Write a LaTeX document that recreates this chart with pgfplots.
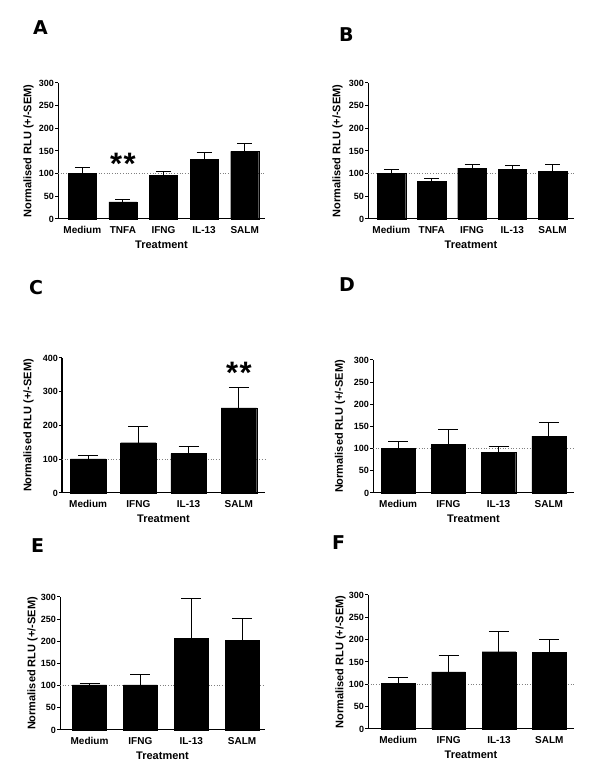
\documentclass[border=0pt]{standalone}
\usepackage{fontspec}
\setmainfont{Liberation Sans}
\newfontfamily\letterfont{DejaVu Sans}
\usepackage{pgfplots}
\pgfplotsset{compat=1.18}
\pgfplotsset{
  panel/.style={
    scale only axis,
    anchor=south west,
    axis lines=left,
    axis line style={-, line width=1pt},
    ymin=0,
    tick align=outside,
    major tick length=3pt,
    ytick style={line width=1pt, black},
    xtick style={draw=none},
    /pgf/number format/assume math mode=true,
    yticklabel style={font=\fontsize{9}{10}\selectfont\bfseries, inner sep=0.8pt},
    xticklabel style={font=\fontsize{10}{11}\selectfont\bfseries, anchor=base, yshift=-12pt},
    ylabel={Normalised RLU (+/-SEM)},
    xlabel={Treatment},
    label style={font=\fontsize{11}{12}\selectfont\bfseries},
    ylabel style={anchor=center, rotate=0},
    xlabel style={at={(axis description cs:0.5,0)}, anchor=base, yshift=-30pt},
    clip=false,
  },
  bars/.style 2 args={ybar, bar shift=0pt, bar width=#1, fill=black, draw=black,
    error bars/.cd, y dir=plus, y explicit,
    error bar style={line width=1pt, black},
    error mark options={rotate=90, mark size=#2, line width=1pt, black}},
  refline/.style={gray, dotted, line width=0.7pt, forget plot},
}
\newcommand{\stars}{{\fontsize{31}{31}\selectfont\bfseries *\kern1.5pt*}}
\newcommand{\plab}[1]{{\letterfont\fontsize{19}{19}\selectfont\bfseries #1}}
\begin{document}
\begin{tikzpicture}
\useasboundingbox (0,0) rectangle (600pt,775pt);
% panel letters
\node[anchor=base west, inner sep=0pt] at (33pt,740pt) {\plab{A}};
\node[anchor=base west, inner sep=0pt] at (339pt,733pt) {\plab{B}};
\node[anchor=base west, inner sep=0pt] at (29pt,480pt) {\plab{C}};
\node[anchor=base west, inner sep=0pt] at (339pt,483pt) {\plab{D}};
\node[anchor=base west, inner sep=0pt] at (31pt,222pt) {\plab{E}};
\node[anchor=base west, inner sep=0pt] at (332pt,225pt) {\plab{F}};

% A
\begin{axis}[panel, at={(58pt,556pt)}, width=207pt, height=136pt,
  xmin=-0.6, xmax=4.5, ymax=300, ytick={0,50,...,300},
  xtick={0,1,2,3,4}, xticklabels={Medium,TNFA,IFNG,IL-13,SALM},
  ylabel style={at={(axis description cs:-0.1425,0.5)}}]
\addplot[refline] coordinates {(-0.6,100) (4.5,100)};
\addplot[bars={0.69}{7.5pt}] table[x=x, y=y, y error=e] {
x y e
0 101 12
1 38 5
2 97 8
3 132 15
4 149 17
};
\node at (axis cs:1,137) [yshift=-7pt] {\stars};
\end{axis}

% B
\begin{axis}[panel, at={(368pt,556pt)}, width=206pt, height=136pt,
  xmin=-0.58, xmax=4.53, ymax=300, ytick={0,50,...,300},
  xtick={0,1,2,3,4}, xticklabels={Medium,TNFA,IFNG,IL-13,SALM},
  ylabel style={at={(axis description cs:-0.148,0.5)}}]
\addplot[refline] coordinates {(-0.58,100) (4.53,100)};
\addplot[bars={0.71}{7.5pt}] table[x=x, y=y, y error=e] {
x y e
0 101 8
1 83 7
2 112 9
3 110 9
4 105 16
};
\end{axis}

% C
\begin{axis}[panel, at={(62pt,282pt)}, width=203pt, height=135pt,
  xmin=-0.52, xmax=3.52, ymax=400, ytick={0,100,...,400},
  xtick={0,1,2,3}, xticklabels={Medium,IFNG,IL-13,SALM},
  ylabel style={at={(axis description cs:-0.165,0.5)}}]
\addplot[refline] coordinates {(-0.52,100) (3.52,100)};
\addplot[bars={0.71}{10pt}] table[x=x, y=y, y error=e] {
x y e
0 101 10
1 149 47
2 117 20
3 252 60
};
\node at (axis cs:3,378) [yshift=-7pt] {\stars};
\end{axis}

% D
\begin{axis}[panel, at={(373pt,282pt)}, width=201pt, height=133pt,
  xmin=-0.5, xmax=3.5, ymax=300, ytick={0,50,...,300},
  xtick={0,1,2,3}, xticklabels={Medium,IFNG,IL-13,SALM},
  ylabel style={at={(axis description cs:-0.164,0.5)}}]
\addplot[refline] coordinates {(-0.5,100) (3.5,100)};
\addplot[bars={0.68}{10pt}] table[x=x, y=y, y error=e] {
x y e
0 101 15
1 110 34
2 92 14
3 128 30
};
\end{axis}

% E
\begin{axis}[panel, at={(60pt,45pt)}, width=205pt, height=133pt,
  xmin=-0.58, xmax=3.45, ymax=300, ytick={0,50,...,300},
  xtick={0,1,2,3}, xticklabels={Medium,IFNG,IL-13,SALM},
  ylabel style={at={(axis description cs:-0.134,0.5)}}]
\addplot[refline] coordinates {(-0.58,100) (3.45,100)};
\addplot[bars={0.67}{10pt}] table[x=x, y=y, y error=e] {
x y e
0 102 3
1 102 23
2 207 89
3 202 50
};
\end{axis}

% F
\begin{axis}[panel, at={(368pt,46pt)}, width=206pt, height=134pt,
  xmin=-0.6, xmax=3.49, ymax=300, ytick={0,50,...,300},
  xtick={0,1,2,3}, xticklabels={Medium,IFNG,IL-13,SALM},
  ylabel style={at={(axis description cs:-0.1335,0.5)}}]
\addplot[refline] coordinates {(-0.6,100) (3.49,100)};
\addplot[bars={0.67}{10pt}] table[x=x, y=y, y error=e] {
x y e
0 102 13
1 128 36
2 173 45
3 171 29
};
\end{axis}
\end{tikzpicture}
\end{document}
